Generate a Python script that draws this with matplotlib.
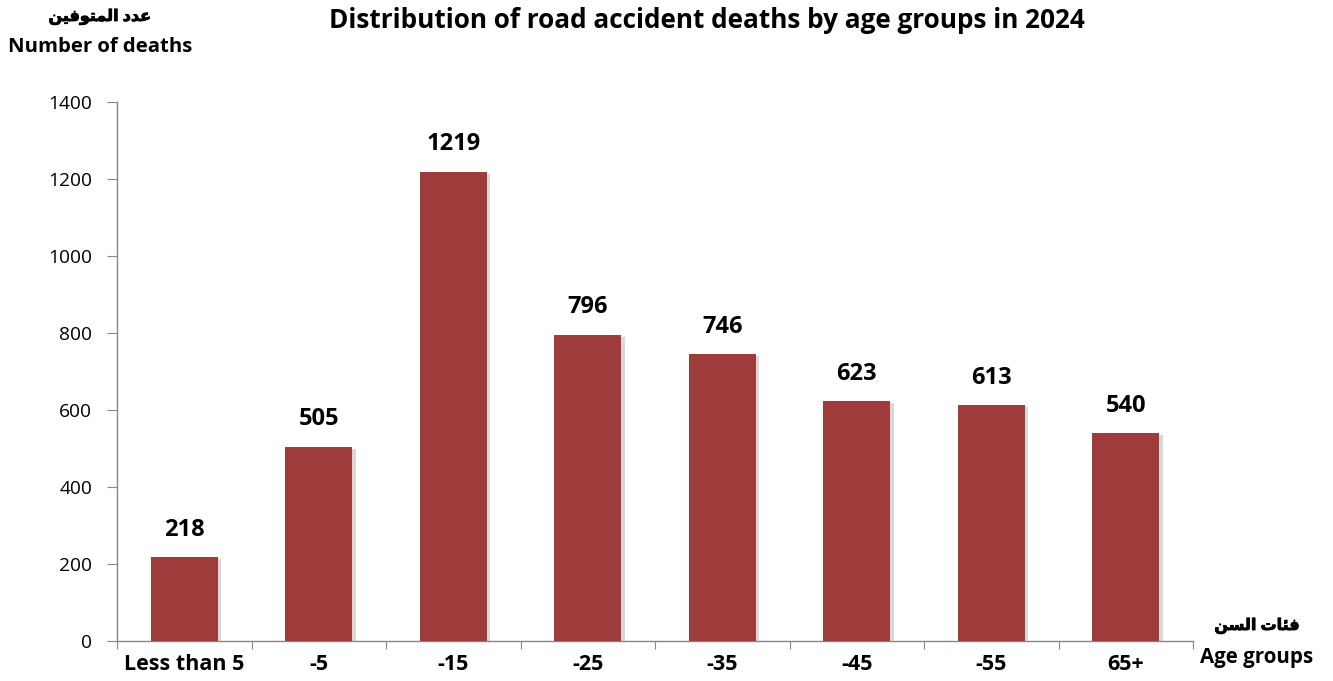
import matplotlib
matplotlib.use("Agg")
import matplotlib.pyplot as plt
import matplotlib.patheffects as pe

plt.rcParams['font.family'] = ['Open Sans', 'DejaVu Sans']

categories = ["Less than 5", "-5", "-15", "-25", "-35", "-45", "-55", "65+"]
deaths = [218, 505, 1219, 796, 746, 623, 613, 540]
yticks = [0, 200, 400, 600, 800, 1000, 1200, 1400]

title = "Distribution of road accident deaths by age groups in 2024"
# Arabic text given in visual (pre-shaped) order: "عدد المتوفين" and "فئات السن"
ylab_ar = "\uFEE6\uFEF4\uFED3\uFEEE\uFE98\uFEE4\uFEDF\uFE8D \uFEA9\uFEAA\uFECB"
xlab_ar = "\uFEE6\uFEB4\uFEDF\uFE8D \uFE95\uFE8E\uFE8C\uFED3"
ylab_en = "Number of deaths"
xlab_en = "Age groups"

bar_color = "#9E3C3B"
axis_color = "#868686"

fig = plt.figure(figsize=(13.33, 6.81), dpi=100)
ax = fig.add_axes([117/1333, 1-641/681, (1193-117)/1333, (641-102)/681])

x = list(range(len(categories)))
bars = ax.bar(x, deaths, width=0.5, color=bar_color, zorder=3)
for b in bars:
    b.set_path_effects([pe.SimplePatchShadow(offset=(2.5, -1.5), shadow_rgbFace="#aaaaaa", alpha=0.45), pe.Normal()])

for xi, v in zip(x, deaths):
    ax.annotate(str(v), (xi, v), xytext=(0, 11), textcoords="offset points",
                ha="center", va="bottom", fontsize=17, fontweight="bold", color="black")

ax.set_xlim(-0.5, len(categories) - 0.5)
ax.set_ylim(0, 1400)
ax.set_yticks(yticks)
ax.set_yticklabels([str(t) for t in yticks], fontsize=13.8)

ax.set_xticks([i - 0.5 for i in range(len(categories) + 1)])
ax.set_xticklabels([])
ax.set_xticks(x, minor=True)
ax.set_xticklabels(categories, minor=True, fontsize=15.5, fontweight="bold")
ax.tick_params(axis="x", which="minor", length=0, pad=9)
ax.tick_params(axis="x", which="major", length=6, color=axis_color, direction="out")
ax.tick_params(axis="y", length=7, color=axis_color, direction="out", pad=11)

for s in ["top", "right"]:
    ax.spines[s].set_visible(False)
for s in ["left", "bottom"]:
    ax.spines[s].set_color(axis_color)
    ax.spines[s].set_linewidth(1.0)

ar_fx = [pe.withStroke(linewidth=0.6, foreground="black")]
fig.text(707/1333, 1-20/681, title, ha="center", va="center", fontsize=18.8, fontweight="bold")
fig.text(100/1333, 1-17/681, ylab_ar, ha="center", va="center", fontsize=11.5,
         fontweight="bold", path_effects=ar_fx)
fig.text(100/1333, 1-47/681, ylab_en, ha="center", va="center", fontsize=14.6, fontweight="bold")
fig.text(1257/1333, 1-626/681, xlab_ar, ha="center", va="center", fontsize=11.5,
         fontweight="bold", path_effects=ar_fx)
fig.text(1257/1333, 1-657/681, xlab_en, ha="center", va="center", fontsize=14.8, fontweight="bold")

fig.savefig("out.png", dpi=100)
